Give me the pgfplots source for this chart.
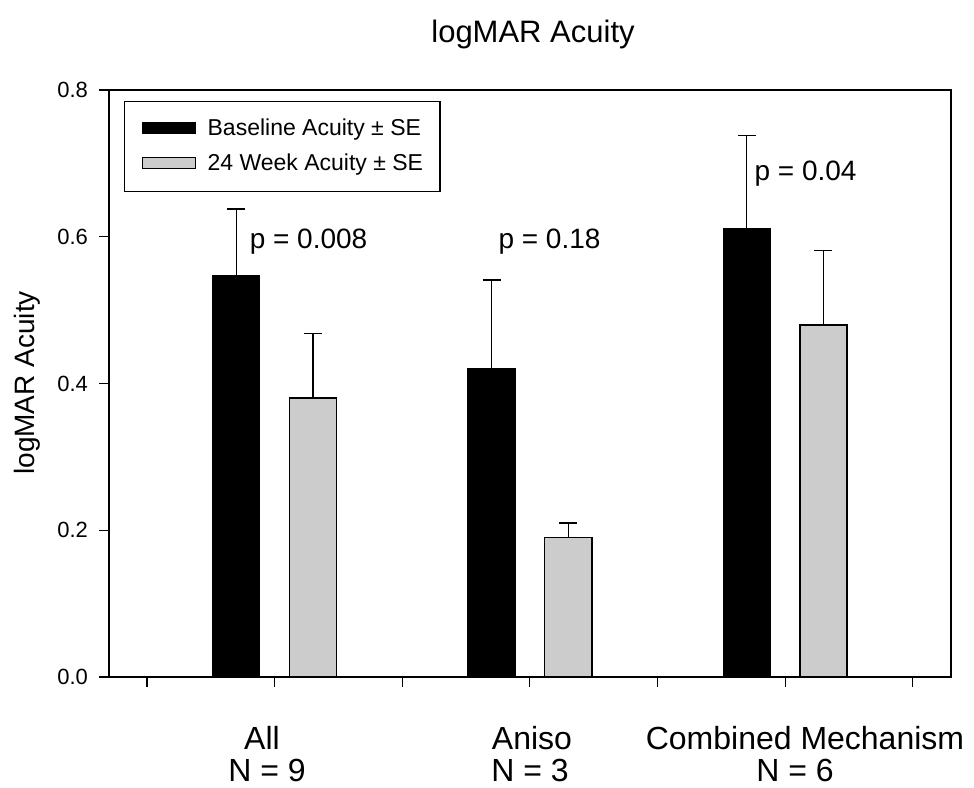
\documentclass[border=0pt]{standalone}
\usepackage{pgfplots}
\pgfplotsset{compat=1.18}
\usepackage{fontspec}
\setmainfont{Liberation Sans}
\definecolor{barg}{RGB}{204,204,204}
\begin{document}
\begin{tikzpicture}
\useasboundingbox (0pt,0pt) rectangle (974pt,787pt);
\begin{axis}[
  at={(109pt,110pt)}, anchor=south west,
  scale only axis, width=842pt, height=587pt,
  xmin=-0.298, xmax=6.30, ymin=0, ymax=0.8,
  clip=false,
  axis line style={line width=1.3pt},
  xtick={0,1,2,3,4,5,6}, xticklabels={},
  ytick={0,0.2,0.4,0.6,0.8},
  xtick pos=left, ytick pos=left,
  tick align=outside, major tick length=9.5pt,
  tick style={line width=1.2pt, black},
  /pgf/number format/assume math mode=true,
  yticklabel style={/pgf/number format/.cd, fixed, fixed zerofill, precision=1, /tikz/.cd, xshift=-8pt},
  ticklabel style={font=\fontsize{22}{26}\selectfont},
  title={logMAR Acuity},
  title style={at={(axis description cs:0.5036,1.0715)}, anchor=base, font=\fontsize{31}{36}\selectfont},
  ylabel={logMAR Acuity},
  ylabel style={at={(axis description cs:-0.0974,0.5009)}, anchor=center, font=\fontsize{28}{32}\selectfont},
  legend style={at={(axis description cs:0.0178,0.981)}, anchor=north west,
    draw=black, line width=1.3pt, inner xsep=17pt, inner ysep=17.5pt,
    row sep=15pt, column sep=12pt,
    nodes={inner sep=0pt, text height=16pt, text depth=4pt},
    font=\fontsize{23}{28}\selectfont},
  legend cell align=left,
]
\addplot[ybar, bar width=0.37, bar shift=0pt, fill=black, draw=black, line width=1pt,
  legend image code/.code={\draw[fill=black, draw=black, line width=1pt] (0pt,-4.5pt) rectangle (53pt,6.5pt);},
  error bars/.cd, y dir=plus, y explicit,
  error bar style={line width=1.3pt, black},
  error mark options={rotate=90, mark size=9pt, line width=1.3pt, black}]
  coordinates {(0.7,0.547) +- (0,0.091) (2.7,0.421) +- (0,0.120) (4.7,0.611) +- (0,0.127)};
\addlegendentry{Baseline Acuity ± SE}
\addplot[ybar, bar width=0.37, bar shift=0pt, fill=barg, draw=black, line width=1.5pt,
  legend image code/.code={\draw[fill=barg, draw=black, line width=1pt] (0pt,-4.5pt) rectangle (53pt,6.5pt);},
  error bars/.cd, y dir=plus, y explicit,
  error bar style={line width=1.3pt, black},
  error mark options={rotate=90, mark size=9pt, line width=1.3pt, black}]
  coordinates {(1.3,0.380) +- (0,0.088) (3.3,0.190) +- (0,0.020) (5.3,0.480) +- (0,0.101)};
\addlegendentry{24 Week Acuity ± SE}
\node[anchor=base west, font=\fontsize{28}{32}\selectfont] at (axis description cs:0.1630,0.7308) {p = 0.008};
\node[anchor=base west, font=\fontsize{28}{32}\selectfont] at (axis description cs:0.4584,0.7308) {p = 0.18};
\node[anchor=base west, font=\fontsize{28}{32}\selectfont] at (axis description cs:0.7625,0.845) {p = 0.04};
\node[anchor=base, inner sep=0pt, font=\fontsize{32}{36}\selectfont] at (axis description cs:0.1817,-0.1227) {All};
\node[anchor=base, inner sep=0pt, font=\fontsize{32}{36}\selectfont] at (axis description cs:0.1877,-0.1772) {N = 9};
\node[anchor=base, inner sep=0pt, font=\fontsize{32}{36}\selectfont] at (axis description cs:0.5024,-0.1227) {Aniso};
\node[anchor=base, inner sep=0pt, font=\fontsize{32}{36}\selectfont] at (axis description cs:0.5000,-0.1772) {N = 3};
\node[anchor=base, inner sep=0pt, font=\fontsize{32}{36}\selectfont] at (axis description cs:0.8266,-0.1227) {Combined Mechanism};
\node[anchor=base, inner sep=0pt, font=\fontsize{32}{36}\selectfont] at (axis description cs:0.8147,-0.1772) {N = 6};
\end{axis}
\end{tikzpicture}
\end{document}
